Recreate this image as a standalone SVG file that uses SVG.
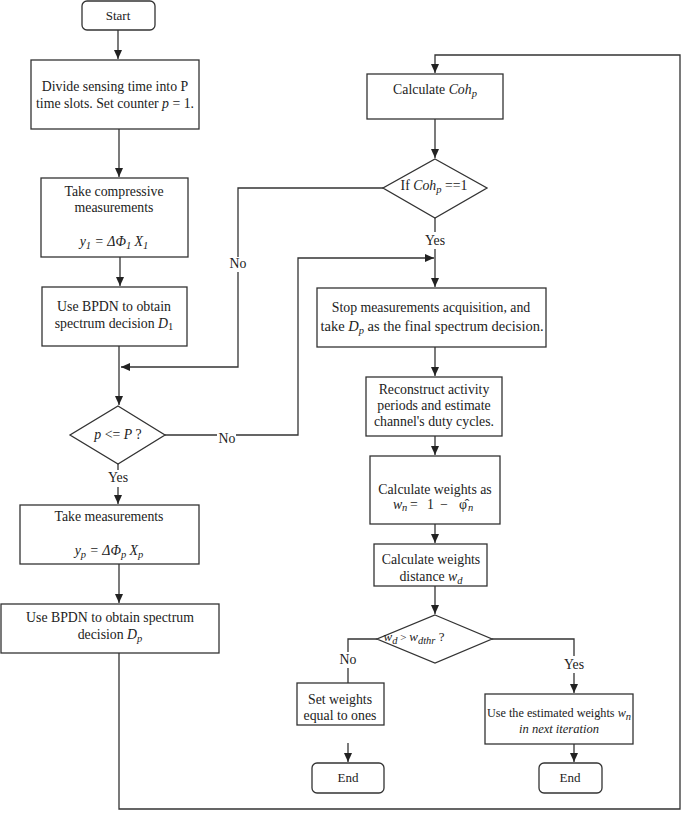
<svg xmlns="http://www.w3.org/2000/svg" width="685" height="813" viewBox="0 0 685 813" font-family="'Liberation Serif', 'Times New Roman', 'DejaVu Serif', serif">
<style>
.n{fill:#fff;stroke:#333;stroke-width:1.3}
.c{fill:none;stroke:#333;stroke-width:1.3}
text{font-size:13.8px;fill:#222;text-anchor:middle}
.i{font-style:italic}
.s{font-size:10.5px}
.st{text-anchor:start}
</style>
<defs>
<marker id="a" markerUnits="userSpaceOnUse" markerWidth="10" markerHeight="10" viewBox="0 0 10 10" refX="9" refY="5" orient="auto">
<path d="M0,1 L9,5 L0,9 Z" fill="#222"/>
</marker>
</defs>
<g id="connectors">
<path class="c" d="M118,30 V59" marker-end="url(#a)"/>
<path class="c" d="M119,129 V177" marker-end="url(#a)"/>
<path class="c" d="M120,257 V286" marker-end="url(#a)"/>
<path class="c" d="M119,346 V405" marker-end="url(#a)"/>
<path class="c" d="M383,188 H238 V257"/>
<path class="c" d="M238,272 V367 H121" marker-end="url(#a)"/>
<path class="c" d="M165,435 H217"/>
<path class="c" d="M236,435 H298 V258 H434" marker-end="url(#a)"/>
<path class="c" d="M118,464 V470"/>
<path class="c" d="M118,487 V504" marker-end="url(#a)"/>
<path class="c" d="M119,564 V603" marker-end="url(#a)"/>
<path class="c" d="M119,653 V809 H680 V55 H435 V73" marker-end="url(#a)"/>
<path class="c" d="M435,119 V158" marker-end="url(#a)"/>
<path class="c" d="M435,218 V232"/>
<path class="c" d="M435,249 V287" marker-end="url(#a)"/>
<path class="c" d="M435,347 V376" marker-end="url(#a)"/>
<path class="c" d="M435,436 V455" marker-end="url(#a)"/>
<path class="c" d="M435,524 V543" marker-end="url(#a)"/>
<path class="c" d="M435,586 V614" marker-end="url(#a)"/>
<path class="c" d="M377,639 H348 V652"/>
<path class="c" d="M348,668 V683"/>
<path class="c" d="M348,743 V762" marker-end="url(#a)"/>
<path class="c" d="M492,639 H574 V656"/>
<path class="c" d="M574,673 V693" marker-end="url(#a)"/>
<path class="c" d="M574,744 V762" marker-end="url(#a)"/>
<text x="238" y="268">No</text>
<text x="227" y="443">No</text>
<text x="118" y="482">Yes</text>
<text x="435" y="245">Yes</text>
<text x="348" y="664">No</text>
<text x="574" y="669">Yes</text>
</g>
<g id="start">
<rect class="n" x="82" y="1" width="73" height="29" rx="5"/>
<text x="118" y="20" style="font-size:13px">Start</text>
</g>
<g id="divide">
<rect class="n" x="31" y="60" width="168" height="69"/>
<text x="115" y="91">Divide sensing time into P</text>
<text x="115" y="108">time slots. Set counter <tspan class="i">p</tspan> = 1.</text>
</g>
<g id="compressive">
<rect class="n" x="41" y="178" width="147" height="79"/>
<text x="114" y="196">Take compressive</text>
<text x="114" y="212">measurements</text>
<text x="114" y="246" class="i">y<tspan class="s" dy="3">1</tspan><tspan dy="-3"> = ΔΦ</tspan><tspan class="s" dy="3">1</tspan><tspan dy="-3"> X</tspan><tspan class="s" dy="3">1</tspan></text>
</g>
<g id="bpdn1">
<rect class="n" x="42" y="287" width="145" height="59"/>
<text x="114" y="311">Use BPDN to obtain</text>
<text x="114" y="328">spectrum decision  <tspan class="i">D</tspan><tspan class="s" dy="2">1</tspan></text>
</g>
<g id="check-p">
<polygon class="n" points="118,406 165,435 118,464 70,435"/>
<text x="118" y="439"><tspan class="i">p</tspan> &lt;= <tspan class="i">P</tspan> ?</text>
</g>
<g id="take-meas">
<rect class="n" x="20" y="505" width="179" height="59"/>
<text x="109" y="521">Take measurements</text>
<text x="109" y="555" class="i">y<tspan class="s" dy="3">p</tspan><tspan dy="-3"> = ΔΦ</tspan><tspan class="s" dy="3">p</tspan><tspan dy="-3"> X</tspan><tspan class="s" dy="3">p</tspan></text>
</g>
<g id="bpdn-p">
<rect class="n" x="1" y="604" width="218" height="49"/>
<text x="110" y="622">Use BPDN to obtain spectrum</text>
<text x="110" y="639">decision <tspan class="i">D</tspan><tspan class="s i" dy="3">p</tspan></text>
</g>
<g id="coh">
<rect class="n" x="367" y="74" width="136" height="45"/>
<text x="435" y="94">Calculate <tspan class="i">Coh</tspan><tspan class="s i" dy="3">p</tspan></text>
</g>
<g id="check-coh">
<polygon class="n" points="435,159 487,188 435,218 383,188"/>
<text x="434" y="190">If <tspan class="i">Coh</tspan><tspan class="s i" dy="3">p</tspan><tspan dy="-3"> ==1</tspan></text>
</g>
<g id="stop">
<rect class="n" x="317" y="288" width="229" height="59"/>
<text x="431" y="312">Stop measurements acquisition, and</text>
<text x="432" y="331" style="font-size:14.5px">take <tspan class="i">D</tspan><tspan class="s i" dy="3">p</tspan><tspan dy="-3"> as the final spectrum decision.</tspan></text>
</g>
<g id="reconstruct">
<rect class="n" x="366" y="377" width="136" height="59"/>
<text x="434" y="394">Reconstruct activity</text>
<text x="434" y="410">periods and estimate</text>
<text x="434" y="426">channel's duty cycles.</text>
</g>
<g id="weights">
<rect class="n" x="370" y="456" width="130" height="68"/>
<text x="435" y="494">Calculate weights as</text>
<text y="509" class="st"><tspan x="393" class="i">w</tspan><tspan x="402" class="s i" dy="2">n</tspan><tspan x="410" dy="-2">=</tspan><tspan x="427">1</tspan><tspan x="440">−</tspan><tspan x="459">φ̂</tspan><tspan x="468" class="s i" dy="2">n</tspan></text>
</g>
<g id="distance">
<rect class="n" x="374" y="544" width="113" height="42"/>
<text x="431" y="564">Calculate weights</text>
<text x="431" y="581">distance <tspan class="i">w</tspan><tspan class="s i" dy="3">d</tspan></text>
</g>
<g id="check-wd">
<polygon class="n" points="435,615 492,639 435,663 377,639"/>
<text x="414" y="641" class="i" style="font-size:13px">w<tspan class="s" dy="3">d</tspan><tspan dy="-3" style="font-style:normal;font-size:11px"> &gt; </tspan>w<tspan class="s" dy="3">dthr</tspan><tspan dy="-3" style="font-style:normal"> ?</tspan></text>
</g>
<g id="set-ones">
<rect class="n" x="297" y="683" width="87" height="42"/>
<text x="340" y="704">Set weights</text>
<text x="340" y="720">equal to ones</text>
</g>
<g id="use-est">
<rect class="n" x="485" y="694" width="148" height="50"/>
<text x="559" y="717" style="font-size:12.2px">Use the estimated weights <tspan class="i">w</tspan><tspan class="s i" dy="3">n</tspan></text>
<text x="559" y="733" class="i" style="font-size:12.5px">in next iteration</text>
</g>
<g id="end1">
<rect class="n" x="312" y="763" width="72" height="30" rx="5"/>
<text x="348" y="782" style="font-size:13px">End</text>
</g>
<g id="end2">
<rect class="n" x="539" y="763" width="63" height="30" rx="5"/>
<text x="570" y="782" style="font-size:13px">End</text>
</g>
</svg>
